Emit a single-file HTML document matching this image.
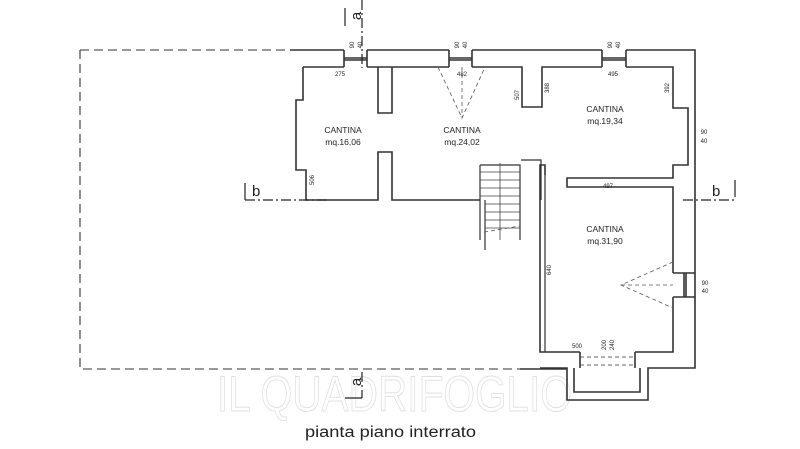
<!DOCTYPE html>
<html><head><style>
html,body{margin:0;padding:0;background:#fff;}
svg{display:block;}
text{font-family:"Liberation Sans",Arial,sans-serif;fill:#222;}
</style></head><body>
<svg width="800" height="449" viewBox="0 0 800 449" xmlns="http://www.w3.org/2000/svg">
<!-- watermark -->
<text x="217" y="411" font-size="50" fill="none" stroke="#e0e0e0" stroke-width="0.9" textLength="355" lengthAdjust="spacingAndGlyphs" style="fill:none">IL QUADRIFOGLIO</text>
<g fill="none" stroke="#333" stroke-width="1.6">
<path d="M80 50 H292 M80 50 V369 H520" stroke-dasharray="9 5" stroke-width="1.1"/>
<path d="M520 369 H567"/>
<path d="M290 50 H344 M367 50 H449 M472 50 H602 M626 50 H695 V368 H648 V400 H567 V368 H540"/>
<path d="M344 50 V67 M367 50 V67 M344 58 H367 M344 60 H367"/>
<path d="M449 50 V67 M472 50 V67 M449 58 H472 M449 60 H472"/>
<path d="M602 50 V67 M626 50 V67 M602 58 H626 M602 60 H626"/>
<path d="M303 67 H344 M367 67 H449 M472 67 H522 V107 H542 V67 H602 M626 67 H673 V108 H688 V165 H673 V178 H567 V187 H673 V273"/>
<path d="M673 273 H695 M673 297 H695 M684 273 V297 M686 273 V297"/>
<path d="M673 297 V352 H635 M580 352 H540 V175"/>
<path d="M580 352 V368 M635 352 V368 M574 368 V392 H640 V368" />
<path d="M580 357 H635 M580 365 H635" stroke-dasharray="4 3" stroke-width="0.8"/>
<path d="M303 67 V100 H296 V170 H306 V200 H378 V152 H392 V200 H480"/>
<path d="M378 67 V113 H392 V67"/>
<path d="M306 200 H330" stroke-width="1"/>
<path d="M480 165 H520 V240 M480 165 V240 M485 200 V250" stroke-width="1.2"/>
<path d="M521 160 H541 V200 M545 175 V352" stroke-width="1.2"/>
<path d="M540 175 V165 H545 V175"/>
</g>
<g stroke="#444" stroke-width="0.8">
<path d="M480 172 H520 M480 180 H520 M480 188 H520 M480 196 H520 M485 204 H520 M485 212 H520 M485 220 H520 M485 228 H520 M500 163 V240"/>
</g>
<g stroke="#555" stroke-width="0.8" stroke-dasharray="4 3" fill="none">
<path d="M438 67 L462 118 L485 67 M462 67 V118"/>
<path d="M673 262 L621 285 L673 308 M621 285 H673"/>
<path d="M484 232 L520 226"/>
</g>
<g stroke="#222" stroke-width="1.2" fill="none">
<path d="M362 0 V68" stroke-dasharray="10 3 2 3"/>
<path d="M345 8 V26"/>
<path d="M362 372 V398" stroke-dasharray="10 3 2 3"/>
<path d="M345 398 H362"/>
<path d="M245 200 H330" stroke-dasharray="10 3 2 3"/>
<path d="M245 183 V200"/>
<path d="M683 200 H735" stroke-dasharray="10 3 2 3"/>
<path d="M735 180 V197"/>
</g>
<text x="357" y="20" font-size="15" transform="rotate(-90 357 16)" text-anchor="middle">a</text>
<text x="357" y="386" font-size="15" transform="rotate(-90 357 382)" text-anchor="middle">a</text>
<text x="252" y="196" font-size="15">b</text>
<text x="712" y="196" font-size="15">b</text>
<g font-size="8.5" text-anchor="middle">
<text x="343" y="133">CANTINA</text><text x="343" y="145">mq.16,06</text>
<text x="462" y="133">CANTINA</text><text x="462" y="145">mq.24,02</text>
<text x="605" y="112">CANTINA</text><text x="605" y="124">mq.19,34</text>
<text x="605" y="232">CANTINA</text><text x="605" y="244">mq.31,90</text>
</g>
<g font-size="6" text-anchor="middle">
<text x="340" y="76">275</text><text x="462" y="76">482</text><text x="613" y="76">495</text>
<text x="608" y="188">497</text><text x="577" y="348">500</text>
<text x="704" y="134">90</text><text x="704" y="143">40</text>
<text x="705" y="285">90</text><text x="705" y="293">40</text>
<text transform="translate(519 95) rotate(-90)">507</text>
<text transform="translate(549 88) rotate(-90)">388</text>
<text transform="translate(669 88) rotate(-90)">392</text>
<text transform="translate(314 180) rotate(-90)">506</text>
<text transform="translate(551 270) rotate(-90)">640</text>
<text transform="translate(354 45) rotate(-90)">90</text><text transform="translate(362 45) rotate(-90)">40</text>
<text transform="translate(459 45) rotate(-90)">90</text><text transform="translate(467 45) rotate(-90)">40</text>
<text transform="translate(612 45) rotate(-90)">90</text><text transform="translate(620 45) rotate(-90)">40</text>
<text transform="translate(606 345) rotate(-90)">200</text><text transform="translate(614 345) rotate(-90)">240</text>
</g>
<text x="305" y="437" font-size="15.5" textLength="171" lengthAdjust="spacingAndGlyphs">pianta piano interrato</text>
</svg>
</body></html>
